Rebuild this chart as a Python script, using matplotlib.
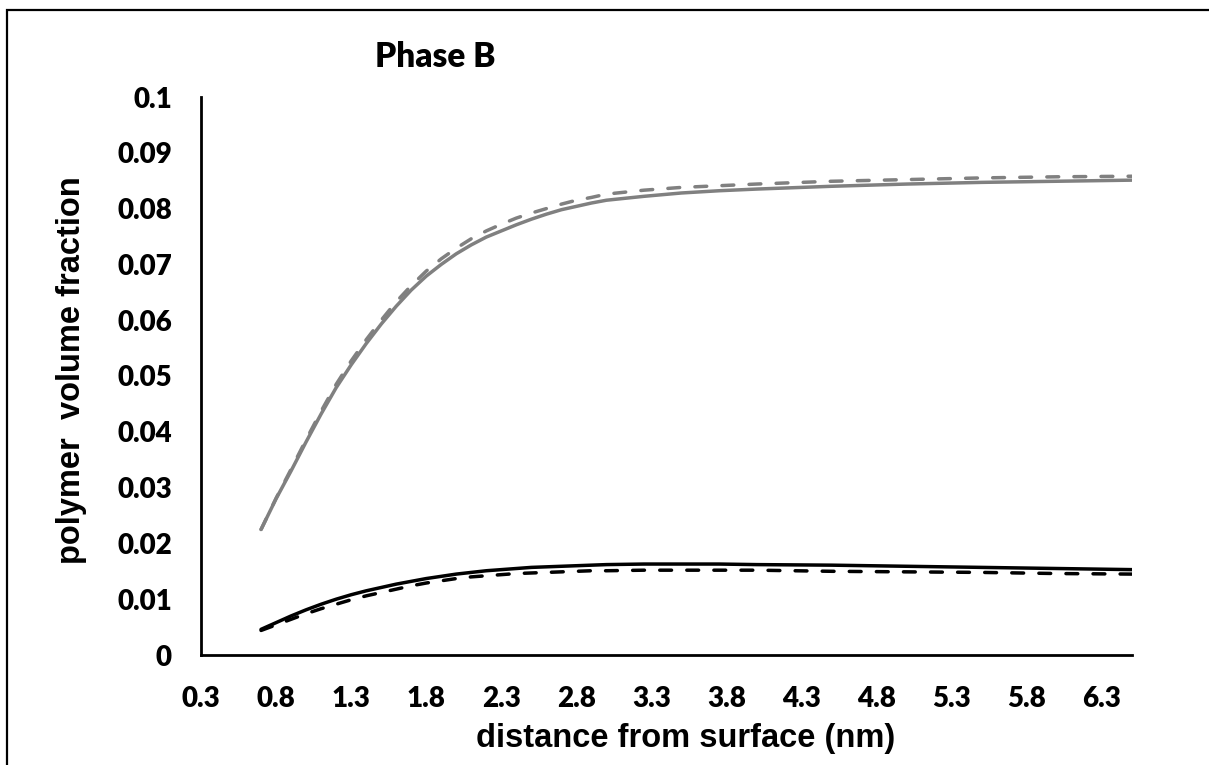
import matplotlib
matplotlib.use("Agg")
import matplotlib.pyplot as plt
from matplotlib.patches import Rectangle

# distance from surface (nm)
distance = [0.7, 0.8, 0.9, 1.0, 1.1, 1.2, 1.3, 1.4, 1.5, 1.6, 1.7, 1.8, 1.9,
            2.0, 2.1, 2.2, 2.3, 2.4, 2.5, 2.6, 2.7, 2.8, 2.9, 3.0, 3.25, 3.5,
            3.75, 4.0, 4.5, 5.0, 5.5, 6.0, 6.5]

# grey pair (upper curves)
grey_solid = [0.0225, 0.0280, 0.0330, 0.0382, 0.0432, 0.0479, 0.0520, 0.0558,
              0.0593, 0.0625, 0.0654, 0.0679, 0.0700, 0.0719, 0.0735, 0.0749,
              0.0760, 0.0771, 0.0781, 0.0790, 0.0798, 0.0804, 0.0810, 0.0815,
              0.0822, 0.0828, 0.0832, 0.0835, 0.0840, 0.0844, 0.0847, 0.0849,
              0.0851]
grey_dashed = [0.0225, 0.0281, 0.0333, 0.0386, 0.0437, 0.0485, 0.0527, 0.0565,
               0.0600, 0.0633, 0.0662, 0.0688, 0.0710, 0.0729, 0.0746, 0.0760,
               0.0772, 0.0783, 0.0792, 0.0800, 0.0808, 0.0815, 0.0820, 0.0826,
               0.0833, 0.0838, 0.0841, 0.0844, 0.0849, 0.0852, 0.0855, 0.0857,
               0.0858]

# black pair (lower curves)
black_solid = [0.0046, 0.0058, 0.0070, 0.0081, 0.0091, 0.0100, 0.0108, 0.0115,
               0.0121, 0.0127, 0.0132, 0.0137, 0.0141, 0.0145, 0.0148, 0.0151,
               0.0153, 0.0155, 0.0157, 0.0158, 0.0159, 0.0160, 0.0161, 0.0162,
               0.0163, 0.0163, 0.0163, 0.0162, 0.0161, 0.0159, 0.0157, 0.0155,
               0.0153]
black_dashed = [0.0044, 0.0054, 0.0064, 0.0074, 0.0083, 0.0091, 0.0099, 0.0106,
                0.0112, 0.0118, 0.0124, 0.0129, 0.0133, 0.0137, 0.0140, 0.0142,
                0.0144, 0.0146, 0.0147, 0.0148, 0.0149, 0.0150, 0.0151, 0.0151,
                0.0152, 0.0152, 0.0152, 0.0152, 0.0150, 0.0149, 0.0148, 0.0146,
                0.0145]

x_ticks = [0.3, 0.8, 1.3, 1.8, 2.3, 2.8, 3.3, 3.8, 4.3, 4.8, 5.3, 5.8, 6.3]
y_ticks = [0, 0.01, 0.02, 0.03, 0.04, 0.05, 0.06, 0.07, 0.08, 0.09, 0.1]
y_labels = ["0", "0.01", "0.02", "0.03", "0.04", "0.05", "0.06", "0.07",
            "0.08", "0.09", "0.1"]

W, H = 1209, 765
fig = plt.figure(figsize=(W / 100, H / 100), dpi=100)
ax = fig.add_axes([201 / W, 1 - 655 / H, (1132 - 201) / W, (655 - 97) / H])

grey = "#808080"
lw = 2.5
dash = (3.4, 4.4)
ax.plot(distance, grey_solid, color=grey, lw=lw, solid_capstyle="round")
ax.plot(distance, grey_dashed, color=grey, lw=lw, dashes=dash,
        dash_capstyle="round")
ax.plot(distance, black_solid, color="black", lw=lw, solid_capstyle="round")
ax.plot(distance, black_dashed, color="black", lw=lw, dashes=dash,
        dash_capstyle="round")

ax.set_xlim(0.3, 6.5)
ax.set_ylim(0, 0.1)
ax.set_xticks(x_ticks)
ax.set_xticklabels([f"{v:.1f}" for v in x_ticks])
ax.set_yticks(y_ticks)
ax.set_yticklabels(y_labels)

for side in ["top", "right"]:
    ax.spines[side].set_visible(False)
for side in ["left", "bottom"]:
    ax.spines[side].set_linewidth(2.0)
    ax.spines[side].set_color("black")

ax.tick_params(axis="both", length=0)
ax.tick_params(axis="x", pad=22)
ax.tick_params(axis="y", pad=21)
for lab in ax.get_xticklabels() + ax.get_yticklabels():
    lab.set_fontfamily("Lato")
    lab.set_fontweight("heavy")
    lab.set_fontsize(20)

# axis titles placed like the original
fig.text(686 / W, 1 - 738 / H, "distance from surface (nm)",
         family="Liberation Sans", weight="bold", size=23.5,
         ha="center", va="center")
fig.text(72 / W, 1 - 370 / H, "polymer  volume fraction",
         family="Liberation Sans", weight="bold", size=23.5,
         ha="center", va="center", rotation=90)

fig.text(375 / W, 1 - 57 / H, "Phase B", family="Lato", weight="heavy",
         size=24, ha="left", va="center")

# chart frame (only left and top edges fall inside the picture)
fig.patches.append(Rectangle((7 / W, -0.1), 2.0, 1.1 - 10 / H,
                             transform=fig.transFigure, fill=False,
                             edgecolor="black", lw=1.6))

fig.savefig("out.png", dpi=100)
